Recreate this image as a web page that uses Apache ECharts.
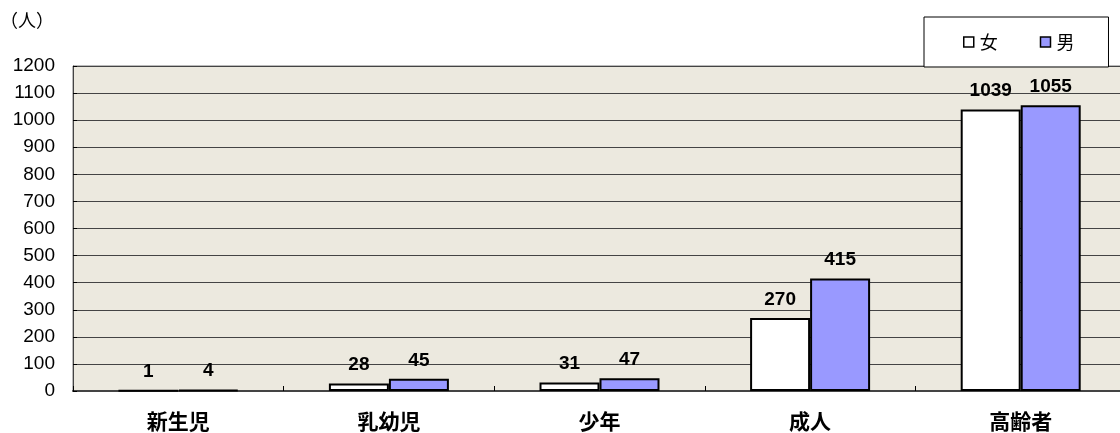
<!DOCTYPE html>
<html><head><meta charset="utf-8">
<script src="https://cdn.jsdelivr.net/npm/echarts@6/dist/echarts.min.js"></script>
<style>html,body{margin:0;padding:0;background:#fff}#c{width:1120px;height:433px}</style>
</head><body><div id="c"></div>
<script>
const categories = ['新生児','乳幼児','少年','成人','高齢者'];
const female = [1, 28, 31, 270, 1039];
const male = [4, 45, 47, 415, 1055];
const yTicks = {min: 0, max: 1200, interval: 100};
const unitLabel = '（人）';

const FONT = '"Noto Sans CJK JP", "Noto Sans", sans-serif';
const NUM = '"Liberation Sans", Arial, sans-serif';
const chart = echarts.init(document.getElementById('c'));
const labelStyle = {show: true, position: 'top', distance: 9, color: '#000', fontSize: 19, fontWeight: 'bold', fontFamily: NUM};
chart.setOption({
  animation: false,
  textStyle: {fontFamily: FONT},
  graphic: [{type: 'text', left: 0, top: 11, style: {text: unitLabel, font: '18px ' + FONT, fill: '#000'}}],
  legend: {
    left: 924, top: 17,
    data: ['女','男'],
    icon: 'rect', itemWidth: 10, itemHeight: 10, itemGap: 42,
    padding: [16, 34, 16, 39],
    backgroundColor: '#fff', borderColor: '#000', borderWidth: 1,
    textStyle: {fontSize: 18, color: '#000', fontFamily: FONT, padding: [0, 0, 0, 1]},
    itemStyle: {borderWidth: 1.5, borderColor: '#000'}
  },
  grid: {left: 73, top: 66, width: 1053, bottom: 42, outerBoundsMode: 'none', containLabel: false,
         show: true, backgroundColor: '#ECE9DF', borderColor: '#777', borderWidth: 1},
  xAxis: {
    type: 'category', data: categories,
    axisLine: {lineStyle: {color: '#444', width: 2}},
    axisTick: {show: true, inside: true, length: 5, lineStyle: {color: '#000'}},
    axisLabel: {fontSize: 21, fontWeight: 'bold', color: '#000', margin: 20, fontFamily: FONT}
  },
  yAxis: {
    type: 'value', min: yTicks.min, max: yTicks.max, interval: yTicks.interval,
    axisLine: {show: true, lineStyle: {color: '#444', width: 1}},
    axisTick: {show: true, inside: true, length: 4, lineStyle: {color: '#000'}},
    axisLabel: {fontSize: 19, color: '#000', margin: 18, fontFamily: NUM, formatter: v => String(v)},
    splitLine: {lineStyle: {color: '#444', width: 1}}
  },
  series: [
    {name: '女', type: 'bar', data: female, barWidth: 60, barGap: '0%',
     itemStyle: {color: '#FFFFFF', borderColor: '#000', borderWidth: 2}, label: labelStyle},
    {name: '男', type: 'bar', data: male, barWidth: 60,
     itemStyle: {color: '#9999FF', borderColor: '#000', borderWidth: 2}, label: labelStyle}
  ]
});
</script></body></html>
